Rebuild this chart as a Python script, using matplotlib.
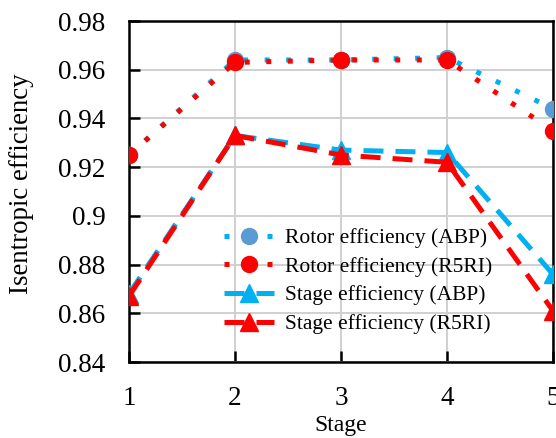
import matplotlib
matplotlib.use("Agg")
import matplotlib.pyplot as plt
from matplotlib.ticker import FuncFormatter

# data
stage = [1, 2, 3, 4, 5]
rotor_abp = [0.925, 0.964, 0.964, 0.965, 0.944]
rotor_r5ri = [0.925, 0.963, 0.964, 0.964, 0.935]
stage_abp = [0.868, 0.933, 0.927, 0.926, 0.876]
stage_r5ri = [0.867, 0.933, 0.925, 0.922, 0.861]

yticks = [0.84, 0.86, 0.88, 0.9, 0.92, 0.94, 0.96, 0.98]

plt.rcParams['font.family'] = ['Liberation Serif', 'DejaVu Serif']

fig = plt.figure(figsize=(5.56, 4.38), dpi=100)
ax = fig.add_axes([0.232, 0.1735, 0.7626, 0.7785])

blue = '#00B0F0'
red = '#FF0000'
dot = (0, (1, 3.3))
dash = (0, (4, 2.4))

ax.plot(stage, rotor_abp, linestyle=dot, color=blue, lw=3.6, marker='o',
        markersize=11.5, markerfacecolor='#5B9BD5', markeredgecolor='#5B9BD5',
        dash_capstyle='butt', label='Rotor efficiency (ABP)', zorder=3)
ax.plot(stage, rotor_r5ri, linestyle=dot, color=red, lw=3.6, marker='o',
        markersize=11.5, markerfacecolor=red, markeredgecolor=red,
        dash_capstyle='butt', label='Rotor efficiency (R5RI)', zorder=4)
ax.plot(stage, stage_abp, linestyle=dash, color=blue, lw=3.6, marker='^',
        markersize=13, markerfacecolor=blue, markeredgecolor=blue,
        label='Stage efficiency (ABP)', zorder=3)
ax.plot(stage, stage_r5ri, linestyle=dash, color=red, lw=3.6, marker='^',
        markersize=13, markerfacecolor=red, markeredgecolor=red,
        label='Stage efficiency (R5RI)', zorder=4)

ax.set_xlim(1, 5)
ax.set_ylim(0.84, 0.98)
ax.set_xticks(stage)
ax.set_yticks(yticks)
ax.yaxis.set_major_formatter(FuncFormatter(lambda v, p: '%g' % round(v, 2)))
ax.grid(True, color='#d0d0d0', lw=1.4)
ax.set_axisbelow(True)
for s in ax.spines.values():
    s.set_linewidth(1.8)
ax.tick_params(direction='in', length=8, width=1.8, labelsize=19.5)
ax.tick_params(axis='y', pad=17)
ax.tick_params(axis='x', pad=17)

ax.set_xlabel('Stage', fontsize=17)
ax.set_ylabel('Isentropic efficiency', fontsize=19.4)
ax.xaxis.set_label_coords(0.5, -0.155)
ax.yaxis.set_label_coords(-0.224, 0.522)

ax.legend(loc='upper left', bbox_to_anchor=(224 / 556, 1 - 228 / 438),
          bbox_transform=fig.transFigure, frameon=False, fontsize=15.5,
          handlelength=2.3, handletextpad=0.55, labelspacing=0.4,
          borderaxespad=0, borderpad=0)

fig.savefig('out.png', dpi=100)
